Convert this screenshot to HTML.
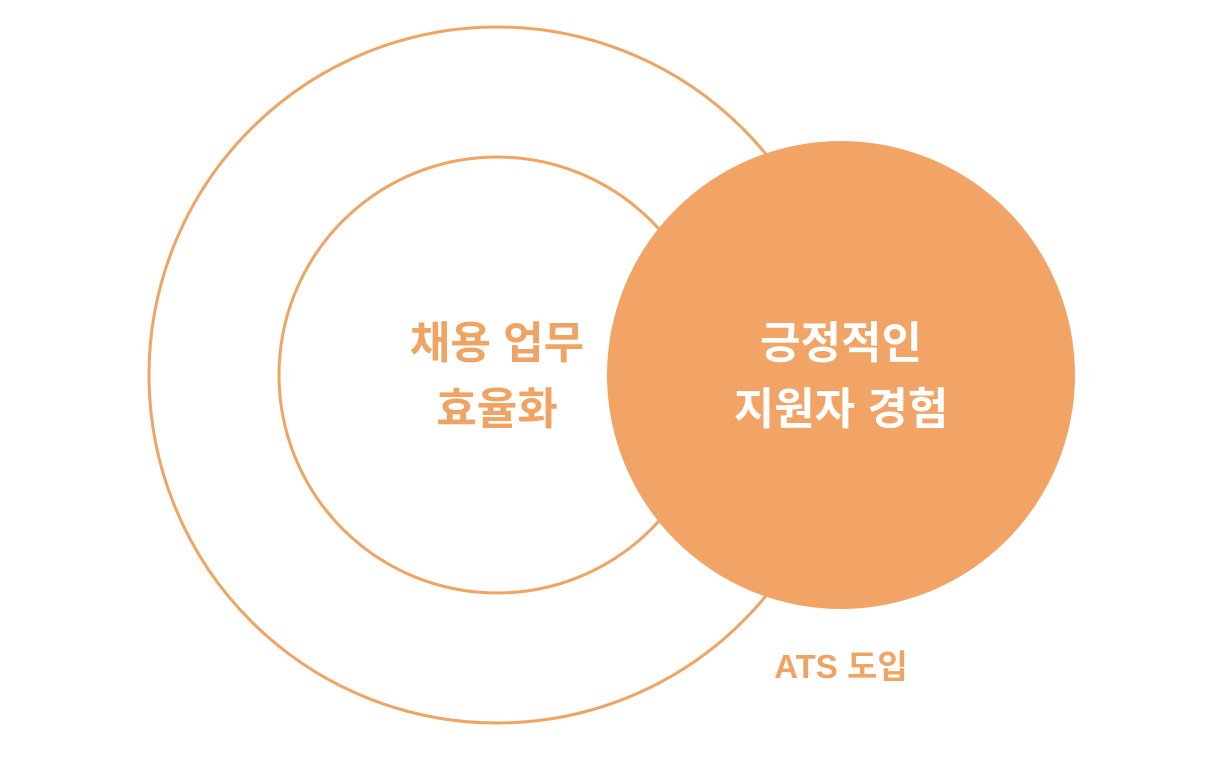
<!DOCTYPE html>
<html><head><meta charset="utf-8"><style>
html,body{margin:0;padding:0;background:#fff;}
svg{display:block}
text{font-family:"Liberation Sans","Noto Sans CJK KR",sans-serif;font-weight:700;text-anchor:middle}
</style></head><body>
<svg width="1226" height="780" viewBox="0 0 1226 780">
<circle cx="497" cy="375" r="348" fill="none" stroke="#F0A464" stroke-width="3"/>
<circle cx="497" cy="375" r="218" fill="none" stroke="#F0A464" stroke-width="3"/>
<circle cx="841" cy="375" r="234" fill="#F2A466"/>
<text x="497" y="358" font-size="44" fill="#F0A464">채용 업무</text>
<text x="497" y="424" font-size="44" fill="#F0A464">효율화</text>
<text x="841" y="358" font-size="44" fill="#fff">긍정적인</text>
<text x="841" y="424" font-size="44" fill="#fff">지원자 경험</text>
<text x="841" y="678" font-size="33" fill="#F0A464">ATS 도입</text>
</svg>
</body></html>
